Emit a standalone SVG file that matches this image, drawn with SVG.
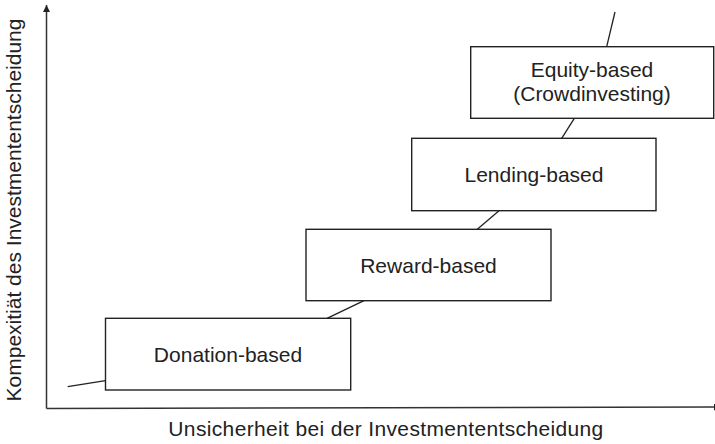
<svg xmlns="http://www.w3.org/2000/svg" width="715" height="444" viewBox="0 0 715 444">
<style>
.box{fill:#fff;stroke:#222;stroke-width:1.4}
.lbl{font-family:"Liberation Sans",Arial,sans-serif;font-size:21px;fill:#222;text-anchor:middle}
.ax{stroke:#333;stroke-width:1.5;fill:none}
.cv{stroke:#222;stroke-width:1.3;fill:none}
</style>
<defs>
<marker id="arr" viewBox="0 0 10 10" refX="10" refY="5" markerWidth="7" markerHeight="7" markerUnits="userSpaceOnUse" orient="auto">
<path d="M0,0 L10,5 L0,10 Z" fill="#222"/>
</marker>
</defs>
<g id="axes">
<line class="ax" x1="46.5" y1="408.5" x2="46.5" y2="5" marker-end="url(#arr)"/>
<line class="ax" x1="46.5" y1="408.5" x2="721" y2="407" marker-end="url(#arr)"/>
<text class="lbl" x="386" y="436" font-size="22" letter-spacing="0.35">Unsicherheit bei der Investmententscheidung</text>
<text class="lbl" transform="translate(21,210) rotate(-90)" font-size="21.3">Kompexitiät des Investmententscheidung</text>
</g>
<g id="connectors">
<line class="cv" x1="67.7" y1="386.7" x2="105.5" y2="380.7"/>
<line class="cv" x1="327" y1="318.3" x2="364" y2="300.7"/>
<line class="cv" x1="477.3" y1="229.3" x2="499" y2="210.7"/>
<line class="cv" x1="561.7" y1="138.3" x2="574.3" y2="118.3"/>
<line class="cv" x1="606.7" y1="46.7" x2="615" y2="12"/>
</g>
<g id="donation">
<rect class="box" x="105.5" y="318.3" width="245.2" height="71.7"/>
<text class="lbl" x="228" y="361.5">Donation-based</text>
</g>
<g id="reward">
<rect class="box" x="306" y="229.3" width="245" height="71.4"/>
<text class="lbl" x="428.5" y="272.5">Reward-based</text>
</g>
<g id="lending">
<rect class="box" x="411.7" y="138.3" width="244.3" height="72.4"/>
<text class="lbl" x="534" y="182">Lending-based</text>
</g>
<g id="equity">
<rect class="box" x="470.7" y="46.7" width="243" height="71.6"/>
<text class="lbl" x="592" y="77">Equity-based</text>
<text class="lbl" x="592" y="101">(Crowdinvesting)</text>
</g>
</svg>
